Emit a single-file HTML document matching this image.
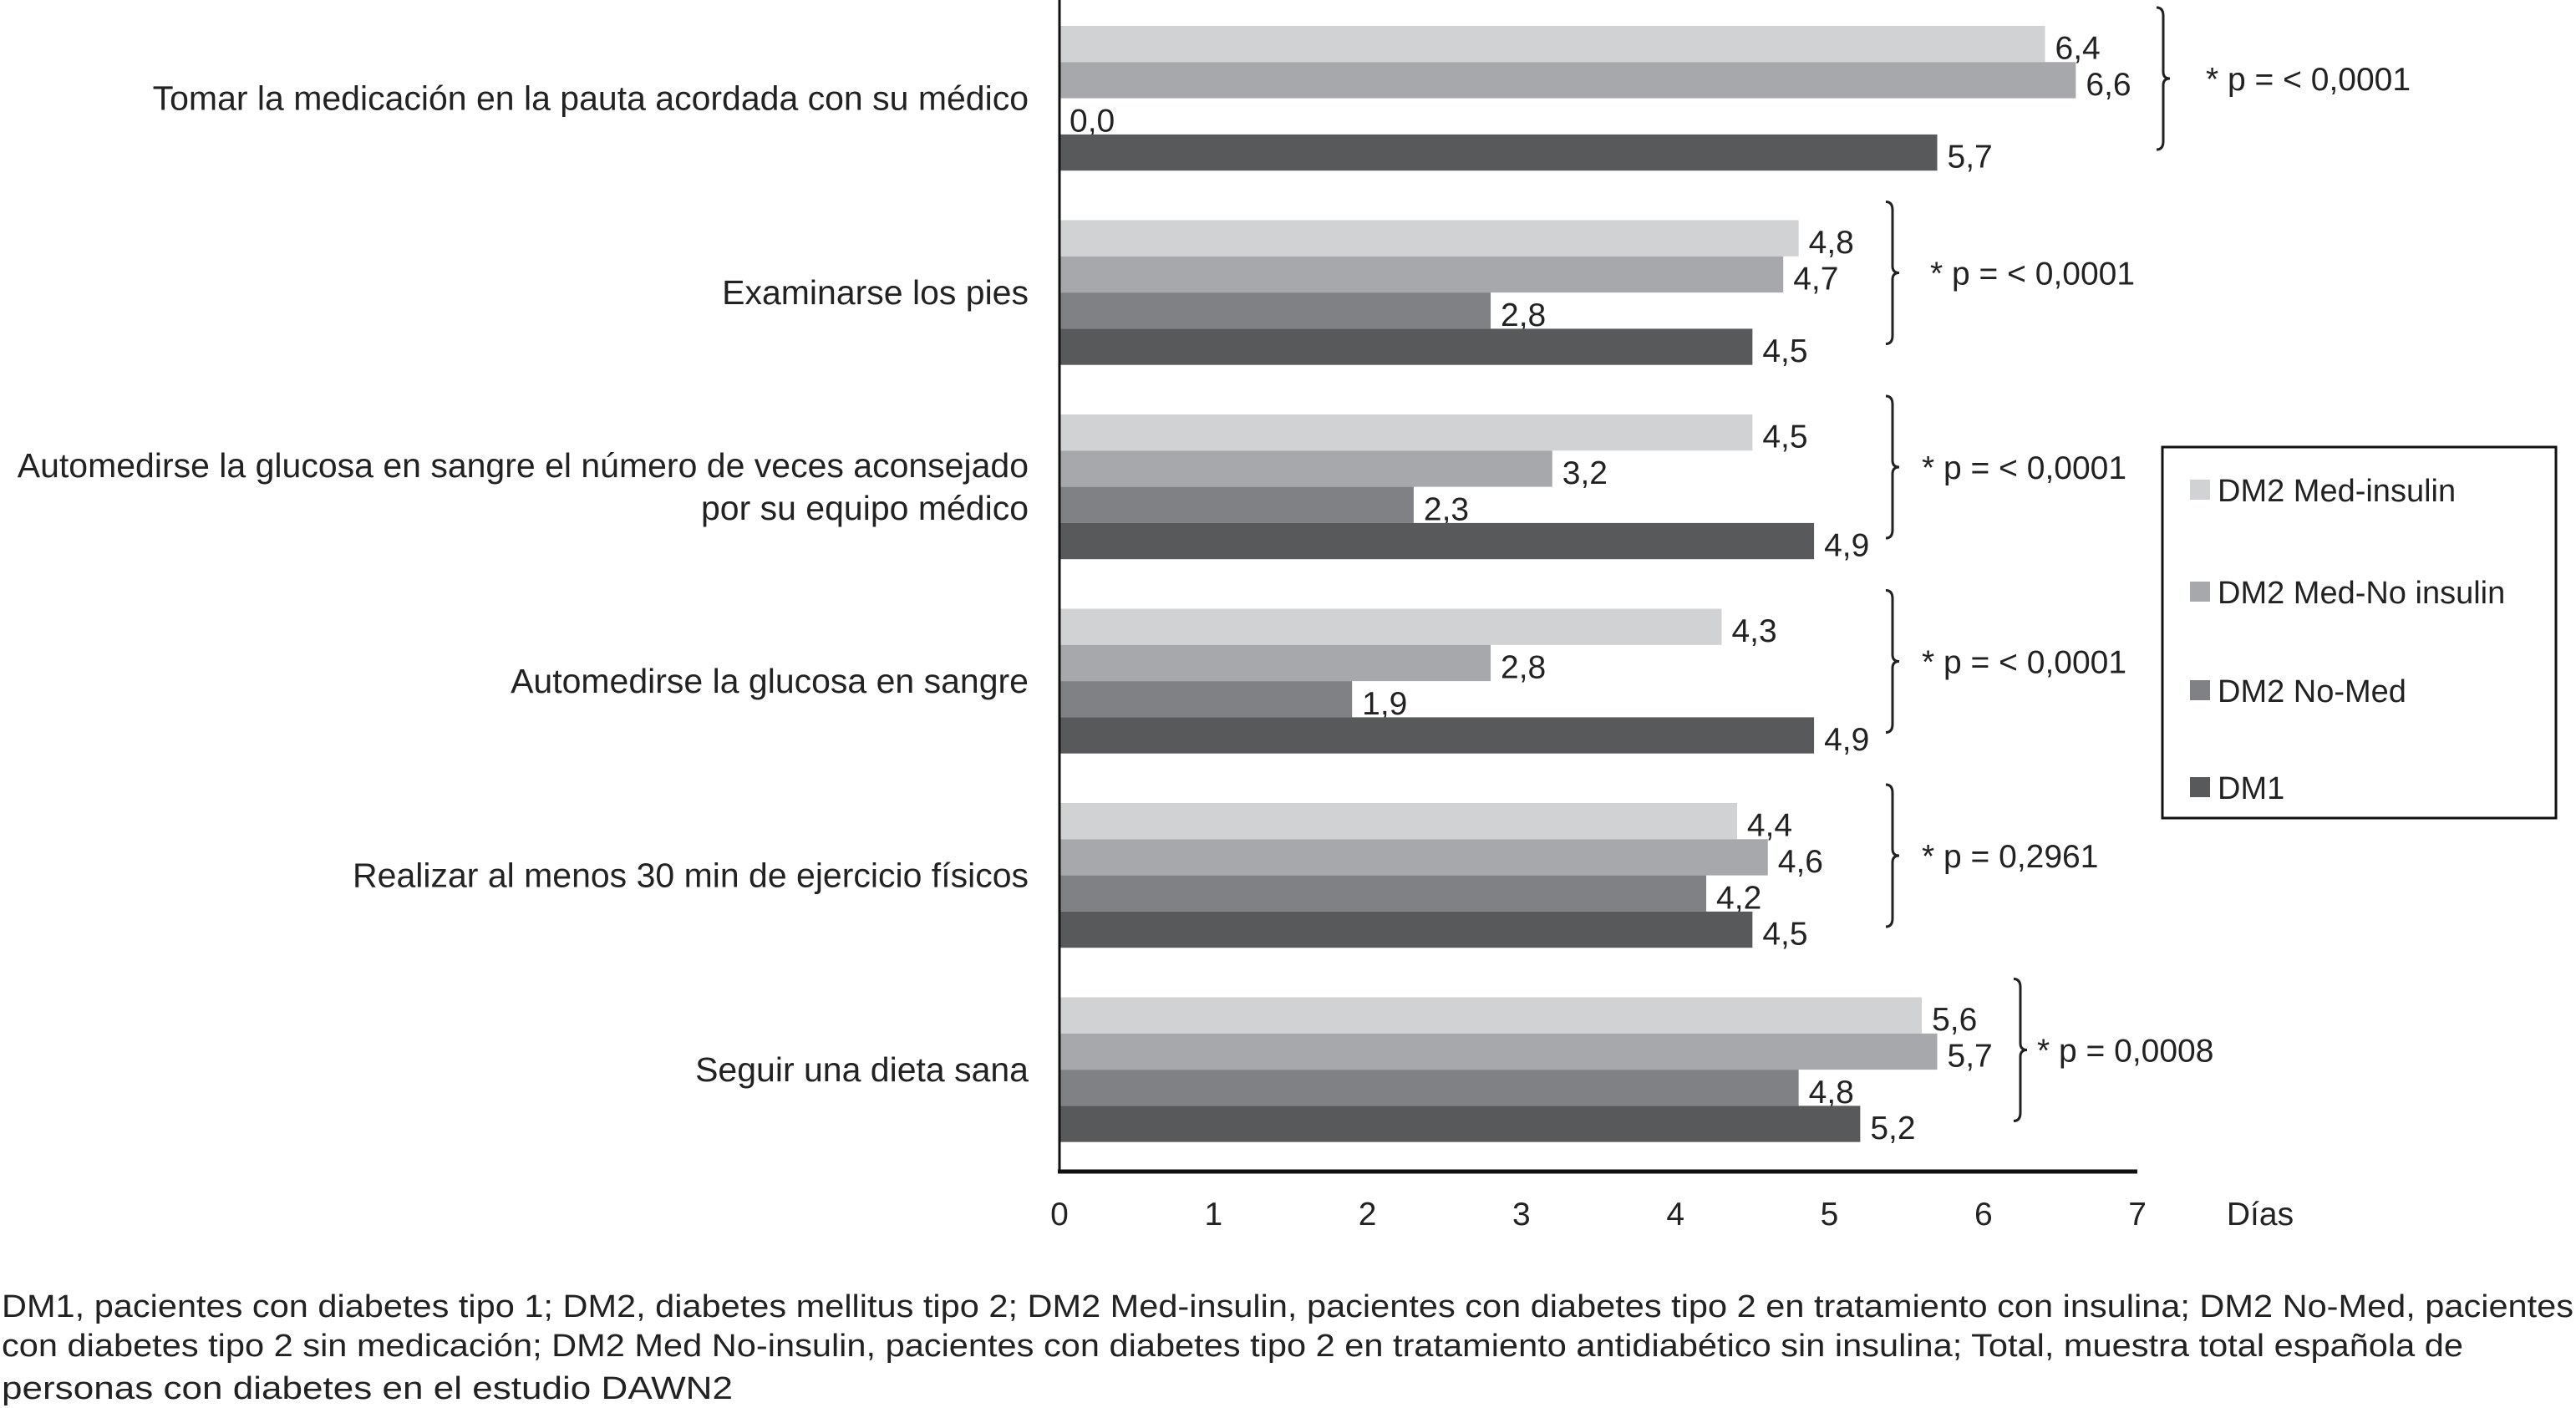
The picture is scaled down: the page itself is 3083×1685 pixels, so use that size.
<!DOCTYPE html>
<html><head><meta charset="utf-8"><style>
html,body{margin:0;padding:0;background:#fff;}
svg{display:block;font-family:"Liberation Sans",Arial,sans-serif;}
</style></head><body>
<svg id="chart" width="3083" height="1685" viewBox="0 0 3083 1685" xmlns="http://www.w3.org/2000/svg">
<g id="bars"></g>
<g id="labels"></g>
<g id="braces"></g>
<line x1="1268" y1="0" x2="1268" y2="1404" stroke="#111" stroke-width="3"/>
<line x1="1266" y1="1402" x2="2558" y2="1402" stroke="#111" stroke-width="5"/>
<g id="ticks"></g>
<text x="2705" y="1466" font-size="39" text-anchor="middle" fill="#222">Días</text>
<g>
<rect x="2588" y="535" width="471" height="444" fill="#fff" stroke="#111" stroke-width="3"/>
<rect x="2621" y="574" width="24" height="24" fill="#d1d2d4"/>
<text x="2654" y="600" font-size="38" fill="#222">DM2 Med-insulin</text>
<rect x="2621" y="696" width="24" height="24" fill="#a7a8ab"/>
<text x="2654" y="722" font-size="38" fill="#222">DM2 Med-No insulin</text>
<rect x="2621" y="814" width="24" height="24" fill="#808184"/>
<text x="2654" y="840" font-size="38" fill="#222">DM2 No-Med</text>
<rect x="2621" y="930" width="24" height="24" fill="#58595b"/>
<text x="2654" y="956" font-size="38" fill="#222">DM1</text>
</g>
<g font-size="38" fill="#222">
<text x="2" y="1576" textLength="3078" lengthAdjust="spacingAndGlyphs">DM1, pacientes con diabetes tipo 1; DM2, diabetes mellitus tipo 2; DM2 Med-insulin, pacientes con diabetes tipo 2 en tratamiento con insulina; DM2 No-Med, pacientes</text>
<text x="2" y="1623" textLength="2946" lengthAdjust="spacingAndGlyphs">con diabetes tipo 2 sin medicación; DM2 Med No-insulin, pacientes con diabetes tipo 2 en tratamiento antidiabético sin insulina; Total, muestra total española de</text>
<text x="2" y="1674" textLength="875" lengthAdjust="spacingAndGlyphs">personas con diabetes en el estudio DAWN2</text>
</g>
</svg>
<script>
const categories = [
  ["Tomar la medicación en la pauta acordada con su médico"],
  ["Examinarse los pies"],
  ["Automedirse la glucosa en sangre el número de veces aconsejado","por su equipo médico"],
  ["Automedirse la glucosa en sangre"],
  ["Realizar al menos 30 min de ejercicio físicos"],
  ["Seguir una dieta sana"]
];
const seriesNames = ["DM2 Med-insulin","DM2 Med-No insulin","DM2 No-Med","DM1"];
const dm2MedInsulin = [6.4,4.8,4.5,4.3,4.4,5.6];
const dm2MedNoInsulin = [6.6,4.7,3.2,2.8,4.6,5.7];
const dm2NoMed = [0.0,2.8,2.3,1.9,4.2,4.8];
const dm1 = [5.7,4.5,4.9,4.9,4.5,5.2];
const pValues = ["* p = < 0,0001","* p = < 0,0001","* p = < 0,0001","* p = < 0,0001","* p = 0,2961","* p = 0,0008"];
const xTicks = [0,1,2,3,4,5,6,7];

const NS="http://www.w3.org/2000/svg";
const colors=["#d1d2d4","#a7a8ab","#808184","#58595b"];
const series=[dm2MedInsulin,dm2MedNoInsulin,dm2NoMed,dm1];
const braceLayout=[[2581,2640],[2257,2310],[2257,2300],[2257,2300],[2257,2300],[2410,2438]];
const x0=1268, unit=184.3, groupTop=31, groupStep=232.5, barH=43.3;
const xs=v=>x0+v*unit;
function mk(tag,attrs,parent){const e=document.createElementNS(NS,tag);for(const k in attrs)e.setAttribute(k,attrs[k]);parent.appendChild(e);return e;}
const gb=document.getElementById('bars'),gl=document.getElementById('labels'),gr=document.getElementById('braces'),gt=document.getElementById('ticks');
const fmt=v=>v.toFixed(1).replace('.',',');
categories.forEach((cat,i)=>{
  const top=groupTop+i*groupStep;
  series.forEach((s,j)=>{
    const y=top+j*barH;
    const r=mk('rect',{x:x0,y:y,width:Math.max(0,xs(s[i])-x0),height:barH,fill:colors[j]},gb);
    
    
    const t=mk('text',{x:xs(s[i])+12,y:y+barH/2+18,'font-size':39,fill:'#222'},gb);
    t.textContent=fmt(s[i]);
    
    
  });
  const cy=top+2*barH;
  const lt=mk('text',{x:1231,'font-size':41,'text-anchor':'end',fill:'#222'},gl);
  
  
  const n=cat.length;
  cat.forEach((line,k)=>{
    const ts=mk('tspan',{x:1231,y:cy+14+(k-(n-1)/2)*51},lt);ts.textContent=line;
  });
  const bx=braceLayout[i][0], y1=top-22, y2=top+148, ym=(y1+y2)/2;
  const p=mk('path',{d:`M${bx},${y1} Q${bx+8},${y1} ${bx+8},${y1+10} L${bx+8},${ym-8} Q${bx+8},${ym} ${bx+16},${ym} Q${bx+8},${ym} ${bx+8},${ym+8} L${bx+8},${y2-10} Q${bx+8},${y2} ${bx},${y2}`,fill:'none',stroke:'#222','stroke-width':3},gr);
  
  
  const pt=mk('text',{x:braceLayout[i][1],y:ym+14,'font-size':39,fill:'#222'},gr);
  pt.textContent=pValues[i];
  
  
});
xTicks.forEach(v=>{
  const t=mk('text',{x:xs(v),y:1466,'font-size':39,'text-anchor':'middle',fill:'#222'},gt);
  t.textContent=v;
  
  
});
</script>
</body></html>
